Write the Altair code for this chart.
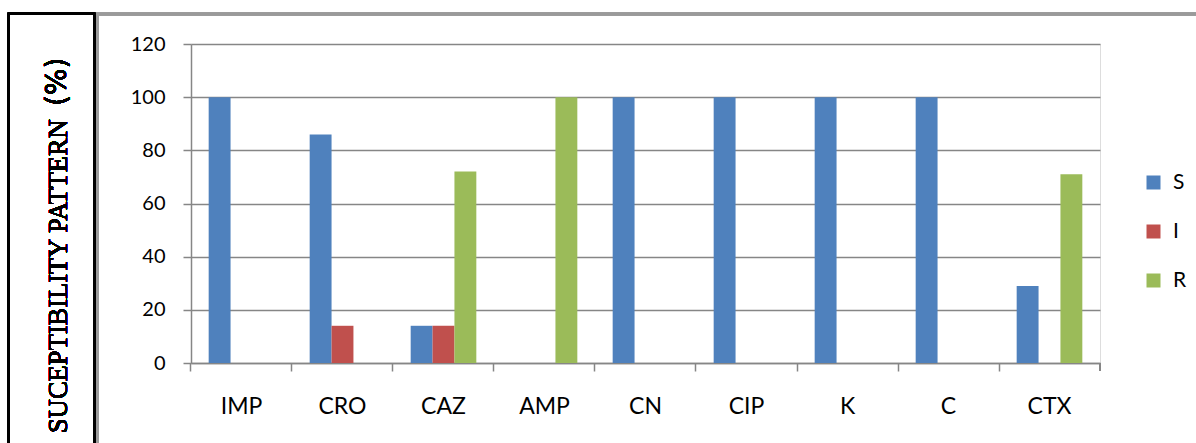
import altair as alt
import pandas as pd

# Antibiotic susceptibility (%) per drug, split into S / I / R
drugs = ["IMP", "CRO", "CAZ", "AMP", "CN", "CIP", "K", "C", "CTX"]
sensitive = [100, 86, 14, 0, 100, 100, 100, 100, 29]
intermediate = [0, 14, 14, 0, 0, 0, 0, 0, 0]
resistant = [0, 0, 72, 100, 0, 0, 0, 0, 71]
series = ["S", "I", "R"]
colors = ["#4F81BD", "#C0504D", "#9BBB59"]
y_ticks = [0, 20, 40, 60, 80, 100, 120]

rows = []
for name, vals in zip(series, [sensitive, intermediate, resistant]):
    for d, v in zip(drugs, vals):
        rows.append({"drug": d, "pattern": name, "value": v})
df = pd.DataFrame(rows)

W, H = 909, 319
PAD_L, PAD_T = 191, 44
P_IN, P_OUT = 0.35, 0.175
FONT = "Lato"
GRAY = "#868686"

bars = alt.Chart(df).mark_bar().encode(
    x=alt.X(
        "drug:N",
        sort=drugs,
        scale=alt.Scale(paddingInner=P_IN, paddingOuter=P_OUT),
        axis=alt.Axis(
            title=None,
            labelAngle=0,
            labelFont=FONT,
            labelFontSize=23,
            labelColor="#000000",
            labelPadding=24,
            labelBaseline="top",
            domainColor=GRAY,
            domainWidth=1.5,
            tickColor=GRAY,
            tickWidth=1.5,
            tickSize=8,
            bandPosition=-P_OUT / (1 - P_IN),
            grid=False,
        ),
    ),
    xOffset=alt.XOffset("pattern:N", sort=series),
    y=alt.Y(
        "value:Q",
        scale=alt.Scale(domain=[0, 120], nice=False),
        axis=alt.Axis(
            title=None,
            values=y_ticks,
            labelFont=FONT,
            labelFontSize=20,
            labelColor="#000000",
            labelPadding=18,
            domainColor=GRAY,
            domainWidth=1.5,
            tickColor=GRAY,
            tickWidth=1.5,
            tickSize=8,
            gridColor=GRAY,
            gridWidth=1.5,
        ),
    ),
    color=alt.Color(
        "pattern:N",
        sort=series,
        scale=alt.Scale(domain=series, range=colors),
        legend=alt.Legend(
            title=None,
            orient="none",
            legendX=952,
            legendY=128,
            padding=0,
            symbolType="square",
            symbolSize=196,
            symbolStrokeWidth=0,
            symbolOpacity=1,
            labelFont=FONT,
            labelFontSize=21,
            labelColor="#000000",
            labelOffset=9,
            rowPadding=27,
        ),
    ),
)

# closing tick at the right end of the category axis
end_tick = alt.Chart(df).mark_rule(color=GRAY, strokeWidth=1.5).encode(
    x=alt.value(W), y=alt.value(H), y2=alt.value(H + 8)
)

# outer frame of the chart area
frame = alt.Chart(df).mark_rect(
    fill="transparent", stroke="#9a9a9a", strokeWidth=2.5
).encode(
    x=alt.value(97 - PAD_L), x2=alt.value(1210 - PAD_L),
    y=alt.value(14 - PAD_T), y2=alt.value(460 - PAD_T),
)

# box holding the vertical axis title
title_box = alt.Chart(df).mark_rect(
    fill="transparent", stroke="#000000", strokeWidth=1.5
).encode(
    x=alt.value(8.5 - PAD_L), x2=alt.value(94.5 - PAD_L),
    y=alt.value(13.5 - PAD_T), y2=alt.value(460 - PAD_T),
)

title_main = alt.Chart(df).mark_text(
    text="SUCEPTIBILITY PATTERN",
    font="Liberation Serif",
    fontSize=26.5,
    fontWeight="normal",
    angle=270,
    align="left",
    baseline="alphabetic",
    color="#000000",
).encode(x=alt.value(67 - PAD_L), y=alt.value(433 - PAD_T))

title_unit = alt.Chart(df).mark_text(
    text="(%)",
    font="DejaVu Sans",
    fontSize=28,
    fontWeight="normal",
    angle=270,
    align="left",
    baseline="alphabetic",
    color="#000000",
).encode(x=alt.value(66 - PAD_L), y=alt.value(106 - PAD_T))

chart = (
    alt.layer(frame, title_box, bars, end_tick, title_main, title_unit)
    .properties(
        width=W,
        height=H,
        autosize=alt.AutoSizeParams(type="none"),
        padding={"left": PAD_L, "top": PAD_T, "right": 1196 - PAD_L - W, "bottom": 443 - PAD_T - H},
    )
    .configure_view(stroke=None)
    .configure(background="#ffffff")
)

chart.save("out.html", embed_options={"renderer": "svg", "actions": False})
